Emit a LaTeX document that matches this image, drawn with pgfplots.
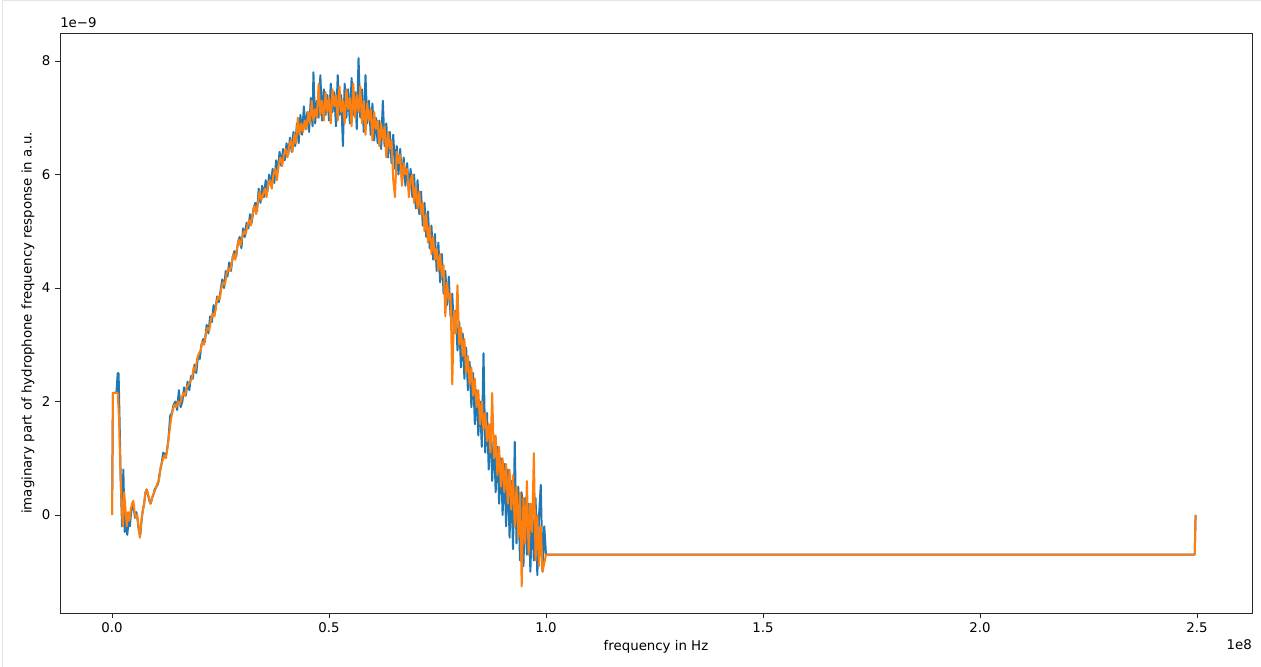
\documentclass[border=0pt]{standalone}
\usepackage{fontspec}
\setmainfont{DejaVu Sans}
\usepackage{pgfplots}
\pgfplotsset{compat=1.18}
\definecolor{mplblue}{HTML}{1F77B4}
\definecolor{mplorange}{HTML}{FF7F0E}

\pgfplotstableread{
x y
0 0
0.002 2.15
0.010 2.15
0.013 2.5
0.015 2.5
0.018 1.4
0.020 0.6
0.023 -0.2
0.026 0.8
0.029 -0.3
0.032 -0.1
0.035 -0.35
0.038 -0.1
0.041 -0.2
0.044 0.05
0.047 0.2
0.050 0.1
0.053 -0.05
0.056 0.05
0.059 -0.1
0.062 -0.3
0.065 -0.35
0.068 -0.1
0.071 0.1
0.074 0.2
0.077 0.4
0.080 0.45
0.083 0.35
0.086 0.25
0.089 0.2
0.092 0.3
0.095 0.35
0.098 0.45
0.102 0.5
0.106 0.55
0.110 0.75
0.114 0.9
0.118 1.1
0.122 1.05
0.126 1.1
0.130 1.35
0.134 1.75
0.138 1.8
0.142 1.95
0.146 2.0
0.150 1.85
0.154 2.2
0.158 1.9
0.162 2.0
0.166 2.25
0.170 2.1
0.174 2.35
0.178 2.2
0.182 2.45
0.186 2.4
0.190 2.65
0.194 2.5
0.198 2.8
0.202 2.75
0.206 3.0
0.210 3.1
0.214 3.05
0.218 3.35
0.222 3.2
0.226 3.5
0.230 3.4
0.234 3.7
0.238 3.6
0.242 3.85
0.246 3.75
0.250 3.95
0.254 4.15
0.258 4.0
0.262 4.3
0.266 4.2
0.270 4.45
0.274 4.3
0.278 4.55
0.282 4.65
0.286 4.55
0.290 4.8
0.294 4.9
0.298 4.7
0.302 5.05
0.306 4.9
0.310 5.15
0.314 5.05
0.318 5.3
0.322 5.15
0.326 5.4
0.330 5.5
0.334 5.35
0.338 5.75
0.342 5.5
0.346 5.8
0.350 5.6
0.354 5.9
0.358 5.7
0.362 6.0
0.366 5.8
0.370 6.1
0.374 5.85
0.378 6.25
0.382 6.05
0.386 6.4
0.390 6.15
0.394 6.45
0.398 6.25
0.402 6.55
0.406 6.35
0.410 6.65
0.414 6.4
0.418 6.75
0.422 6.5
0.426 6.9
0.430 6.55
0.434 7.05
0.438 6.7
0.442 7.2
0.446 6.8
0.450 7.1
0.454 6.75
0.458 7.35
0.462 6.85
0.464 7.8
0.468 6.9
0.472 7.3
0.476 7.0
0.480 7.75
0.484 6.95
0.488 7.5
0.492 7.05
0.496 7.4
0.500 6.95
0.504 7.6
0.508 7.1
0.512 7.45
0.516 6.85
0.520 7.75
0.524 7.05
0.528 7.4
0.532 6.5
0.536 7.6
0.540 7.0
0.544 7.5
0.548 6.9
0.552 7.7
0.556 7.05
0.560 7.45
0.564 6.8
0.568 8.05
0.572 7.0
0.576 7.5
0.580 6.75
0.584 7.75
0.588 6.9
0.592 7.3
0.596 6.7
0.600 7.25
0.604 6.6
0.608 7.0
0.612 6.55
0.616 6.95
0.620 6.45
0.624 7.3
0.628 6.5
0.632 6.9
0.636 6.3
0.640 6.75
0.644 6.2
0.648 6.7
0.652 6.1
0.656 6.5
0.660 6.0
0.664 6.45
0.668 5.9
0.672 6.3
0.676 5.8
0.680 6.2
0.684 5.7
0.688 6.1
0.692 5.6
0.696 6.0
0.700 5.4
0.704 5.9
0.708 5.3
0.712 5.7
0.716 5.1
0.720 5.5
0.724 4.9
0.728 5.35
0.732 4.7
0.736 5.1
0.740 4.5
0.744 4.95
0.748 4.3
0.752 4.8
0.756 4.1
0.760 4.6
0.764 3.9
0.768 4.3
0.772 3.7
0.776 4.2
0.780 3.5
0.784 3.9
0.788 3.2
0.792 3.6
0.796 2.9
0.800 3.4
0.804 2.6
0.808 3.2
0.812 2.4
0.816 2.95
0.820 2.2
0.824 2.7
0.828 1.9
0.832 2.5
0.836 1.6
0.840 2.2
0.844 1.4
0.848 2.0
0.852 1.2
0.856 2.85
0.860 1.1
0.864 1.8
0.868 0.8
0.872 1.6
0.876 0.6
0.880 1.4
0.884 0.4
0.888 1.2
0.892 0.2
0.896 1.0
0.900 0.0
0.904 0.9
0.908 -0.2
0.912 0.8
0.916 -0.4
0.920 0.6
0.924 -0.6
0.928 1.29
0.932 -0.5
0.936 0.5
0.940 -0.8
0.944 0.4
0.948 -0.9
0.952 0.3
0.956 -0.7
0.960 0.2
0.964 -1.0
0.968 0.1
0.972 -0.8
0.976 0.3
0.980 -1.06
0.984 0.0
0.988 0.53
0.992 -1.0
0.996 -0.2
1.000 -0.7
2.495 -0.7
2.497 0.0
}\blueseries

\pgfplotstableread{
x y
0 0
0.002 2.15
0.006 2.15
0.010 2.15
0.013 2.15
0.016 1.7
0.019 0.8
0.022 0.2
0.025 -0.2
0.028 0.4
0.031 0.1
0.034 -0.2
0.037 0.05
0.040 -0.1
0.043 0.1
0.046 0.2
0.049 0.25
0.052 0.05
0.055 -0.05
0.058 0.0
0.061 -0.2
0.064 -0.4
0.067 -0.15
0.070 0.05
0.073 0.15
0.076 0.35
0.079 0.45
0.082 0.4
0.085 0.3
0.088 0.2
0.091 0.25
0.094 0.35
0.097 0.4
0.100 0.45
0.104 0.55
0.108 0.6
0.112 0.85
0.116 0.95
0.120 1.05
0.124 1.0
0.128 1.2
0.132 1.45
0.136 1.7
0.140 1.85
0.144 1.95
0.148 1.9
0.152 2.0
0.156 1.95
0.160 2.05
0.164 2.15
0.168 2.1
0.172 2.25
0.176 2.3
0.180 2.35
0.184 2.4
0.188 2.6
0.192 2.55
0.196 2.75
0.200 2.85
0.204 2.9
0.208 3.05
0.212 3.0
0.216 3.2
0.220 3.3
0.224 3.25
0.228 3.45
0.232 3.55
0.236 3.5
0.240 3.7
0.244 3.85
0.248 3.8
0.252 4.0
0.256 4.1
0.260 4.05
0.264 4.25
0.268 4.35
0.272 4.3
0.276 4.45
0.280 4.6
0.284 4.5
0.288 4.7
0.292 4.85
0.296 4.75
0.300 4.9
0.304 5.0
0.308 4.95
0.312 5.1
0.316 5.2
0.320 5.1
0.324 5.3
0.328 5.45
0.332 5.3
0.336 5.5
0.340 5.7
0.344 5.55
0.348 5.65
0.352 5.75
0.356 5.6
0.360 5.85
0.364 5.9
0.368 5.75
0.372 6.0
0.376 6.1
0.380 5.9
0.384 6.2
0.388 6.3
0.392 6.15
0.396 6.35
0.400 6.45
0.404 6.3
0.408 6.5
0.412 6.6
0.416 6.4
0.420 6.7
0.424 6.55
0.428 7.0
0.432 6.7
0.436 6.9
0.440 6.75
0.444 6.95
0.448 6.8
0.452 7.1
0.456 6.9
0.460 7.3
0.464 6.95
0.468 7.15
0.472 7.0
0.476 7.6
0.480 7.05
0.484 7.3
0.488 6.95
0.492 7.45
0.496 7.1
0.500 7.35
0.504 6.9
0.508 7.5
0.512 7.2
0.516 7.4
0.520 6.95
0.524 7.55
0.528 7.1
0.532 7.3
0.536 6.9
0.540 7.5
0.544 7.15
0.548 7.35
0.552 6.85
0.556 7.6
0.560 7.0
0.564 7.4
0.568 7.1
0.572 7.55
0.576 6.9
0.580 7.3
0.584 6.7
0.588 7.25
0.592 6.95
0.596 7.15
0.600 6.6
0.604 7.1
0.608 6.8
0.612 6.95
0.616 6.5
0.620 6.9
0.624 6.6
0.628 6.85
0.632 6.3
0.636 6.75
0.640 6.45
0.644 6.6
0.648 5.9
0.652 5.6
0.656 6.4
0.660 6.2
0.664 6.35
0.668 5.8
0.672 6.2
0.676 6.0
0.680 6.1
0.684 5.6
0.688 5.9
0.692 6.0
0.696 5.5
0.700 5.8
0.704 5.4
0.708 5.7
0.712 5.3
0.716 5.5
0.720 5.0
0.724 5.3
0.728 4.8
0.732 5.1
0.736 4.6
0.740 4.9
0.744 4.5
0.748 4.7
0.752 4.3
0.756 4.6
0.760 4.2
0.764 4.4
0.768 3.5
0.772 4.1
0.776 3.8
0.780 3.9
0.784 2.3
0.788 3.6
0.792 3.2
0.796 4.05
0.800 3.0
0.804 3.3
0.808 2.8
0.812 3.1
0.816 2.5
0.820 2.8
0.824 2.3
0.828 2.6
0.832 2.1
0.836 2.4
0.840 1.9
0.844 2.2
0.848 1.6
0.852 2.0
0.856 1.5
0.860 1.8
0.864 1.3
0.868 1.6
0.872 1.1
0.876 2.15
0.880 1.0
0.884 1.4
0.888 0.7
0.892 1.2
0.896 0.5
0.900 1.0
0.904 0.4
0.908 0.9
0.912 0.2
0.916 0.8
0.920 0.1
0.924 0.7
0.928 -0.2
0.932 0.5
0.936 -0.4
0.940 0.4
0.944 -1.26
0.948 0.3
0.952 -0.5
0.956 0.6
0.960 -0.7
0.964 0.2
0.968 -0.3
0.972 1.09
0.976 -0.8
0.980 0.0
0.984 -0.9
0.988 -0.2
0.992 -1.0
0.996 -0.85
1.000 -0.7
2.495 -0.7
2.497 0.0
}\orangeseries

\begin{document}
\begin{tikzpicture}
\path[use as bounding box] (-45pt,-40.5pt) rectangle (900.75pt,459.75pt);
\draw[color=black!10, line width=0.75pt] (-42.75pt,-40.5pt) -- (-42.75pt,459.2pt) -- (900.75pt,459.2pt);
\begin{axis}[
  scale only axis,
  width=894pt, height=435pt,
  xmin=-0.12, xmax=2.627,
  ymin=-1.727, ymax=8.493,
  xtick={0,0.5,1,1.5,2,2.5},
  xticklabels={0.0,0.5,1.0,1.5,2.0,2.5},
  ytick={0,2,4,6,8},
  yticklabels={0,2,4,6,8},
  tick align=outside,
  tick pos=lower,
  major tick length=3.5pt,
  every tick/.style={black!85, line width=0.6pt},
  axis line style={black!85, line width=0.6pt},
  tick label style={font=\fontsize{10}{12}\selectfont, inner sep=0pt},
  xticklabel style={yshift=-3.5pt},
  yticklabel style={xshift=-3.5pt},
  /pgf/number format/assume math mode=true,
  xlabel={frequency in Hz},
  ylabel={imaginary part of hydrophone frequency response in a.u.},
  label style={font=\fontsize{10}{12}\selectfont},
  x label style={at={(axis description cs:0.5,0)}, anchor=north, yshift=-20pt, inner sep=0pt},
  y label style={at={(axis description cs:0,0.5)}, anchor=center, yshift=24pt, inner sep=0pt},
  clip mode=individual,
]
\addplot[color=mplblue, line width=1.5pt, line join=round] table[x=x, y=y] {\blueseries};
\addplot[color=mplorange, line width=1.5pt, line join=round] table[x=x, y=y] {\orangeseries};
\node[anchor=south west, inner sep=0pt, font=\fontsize{10}{12}\selectfont] at (rel axis cs:0,1) [yshift=4pt] {1e−9};
\node[anchor=north east, inner sep=0pt, font=\fontsize{10}{12}\selectfont] at (rel axis cs:1,0) [yshift=-19.5pt] {1e8};
\end{axis}
\end{tikzpicture}
\end{document}
